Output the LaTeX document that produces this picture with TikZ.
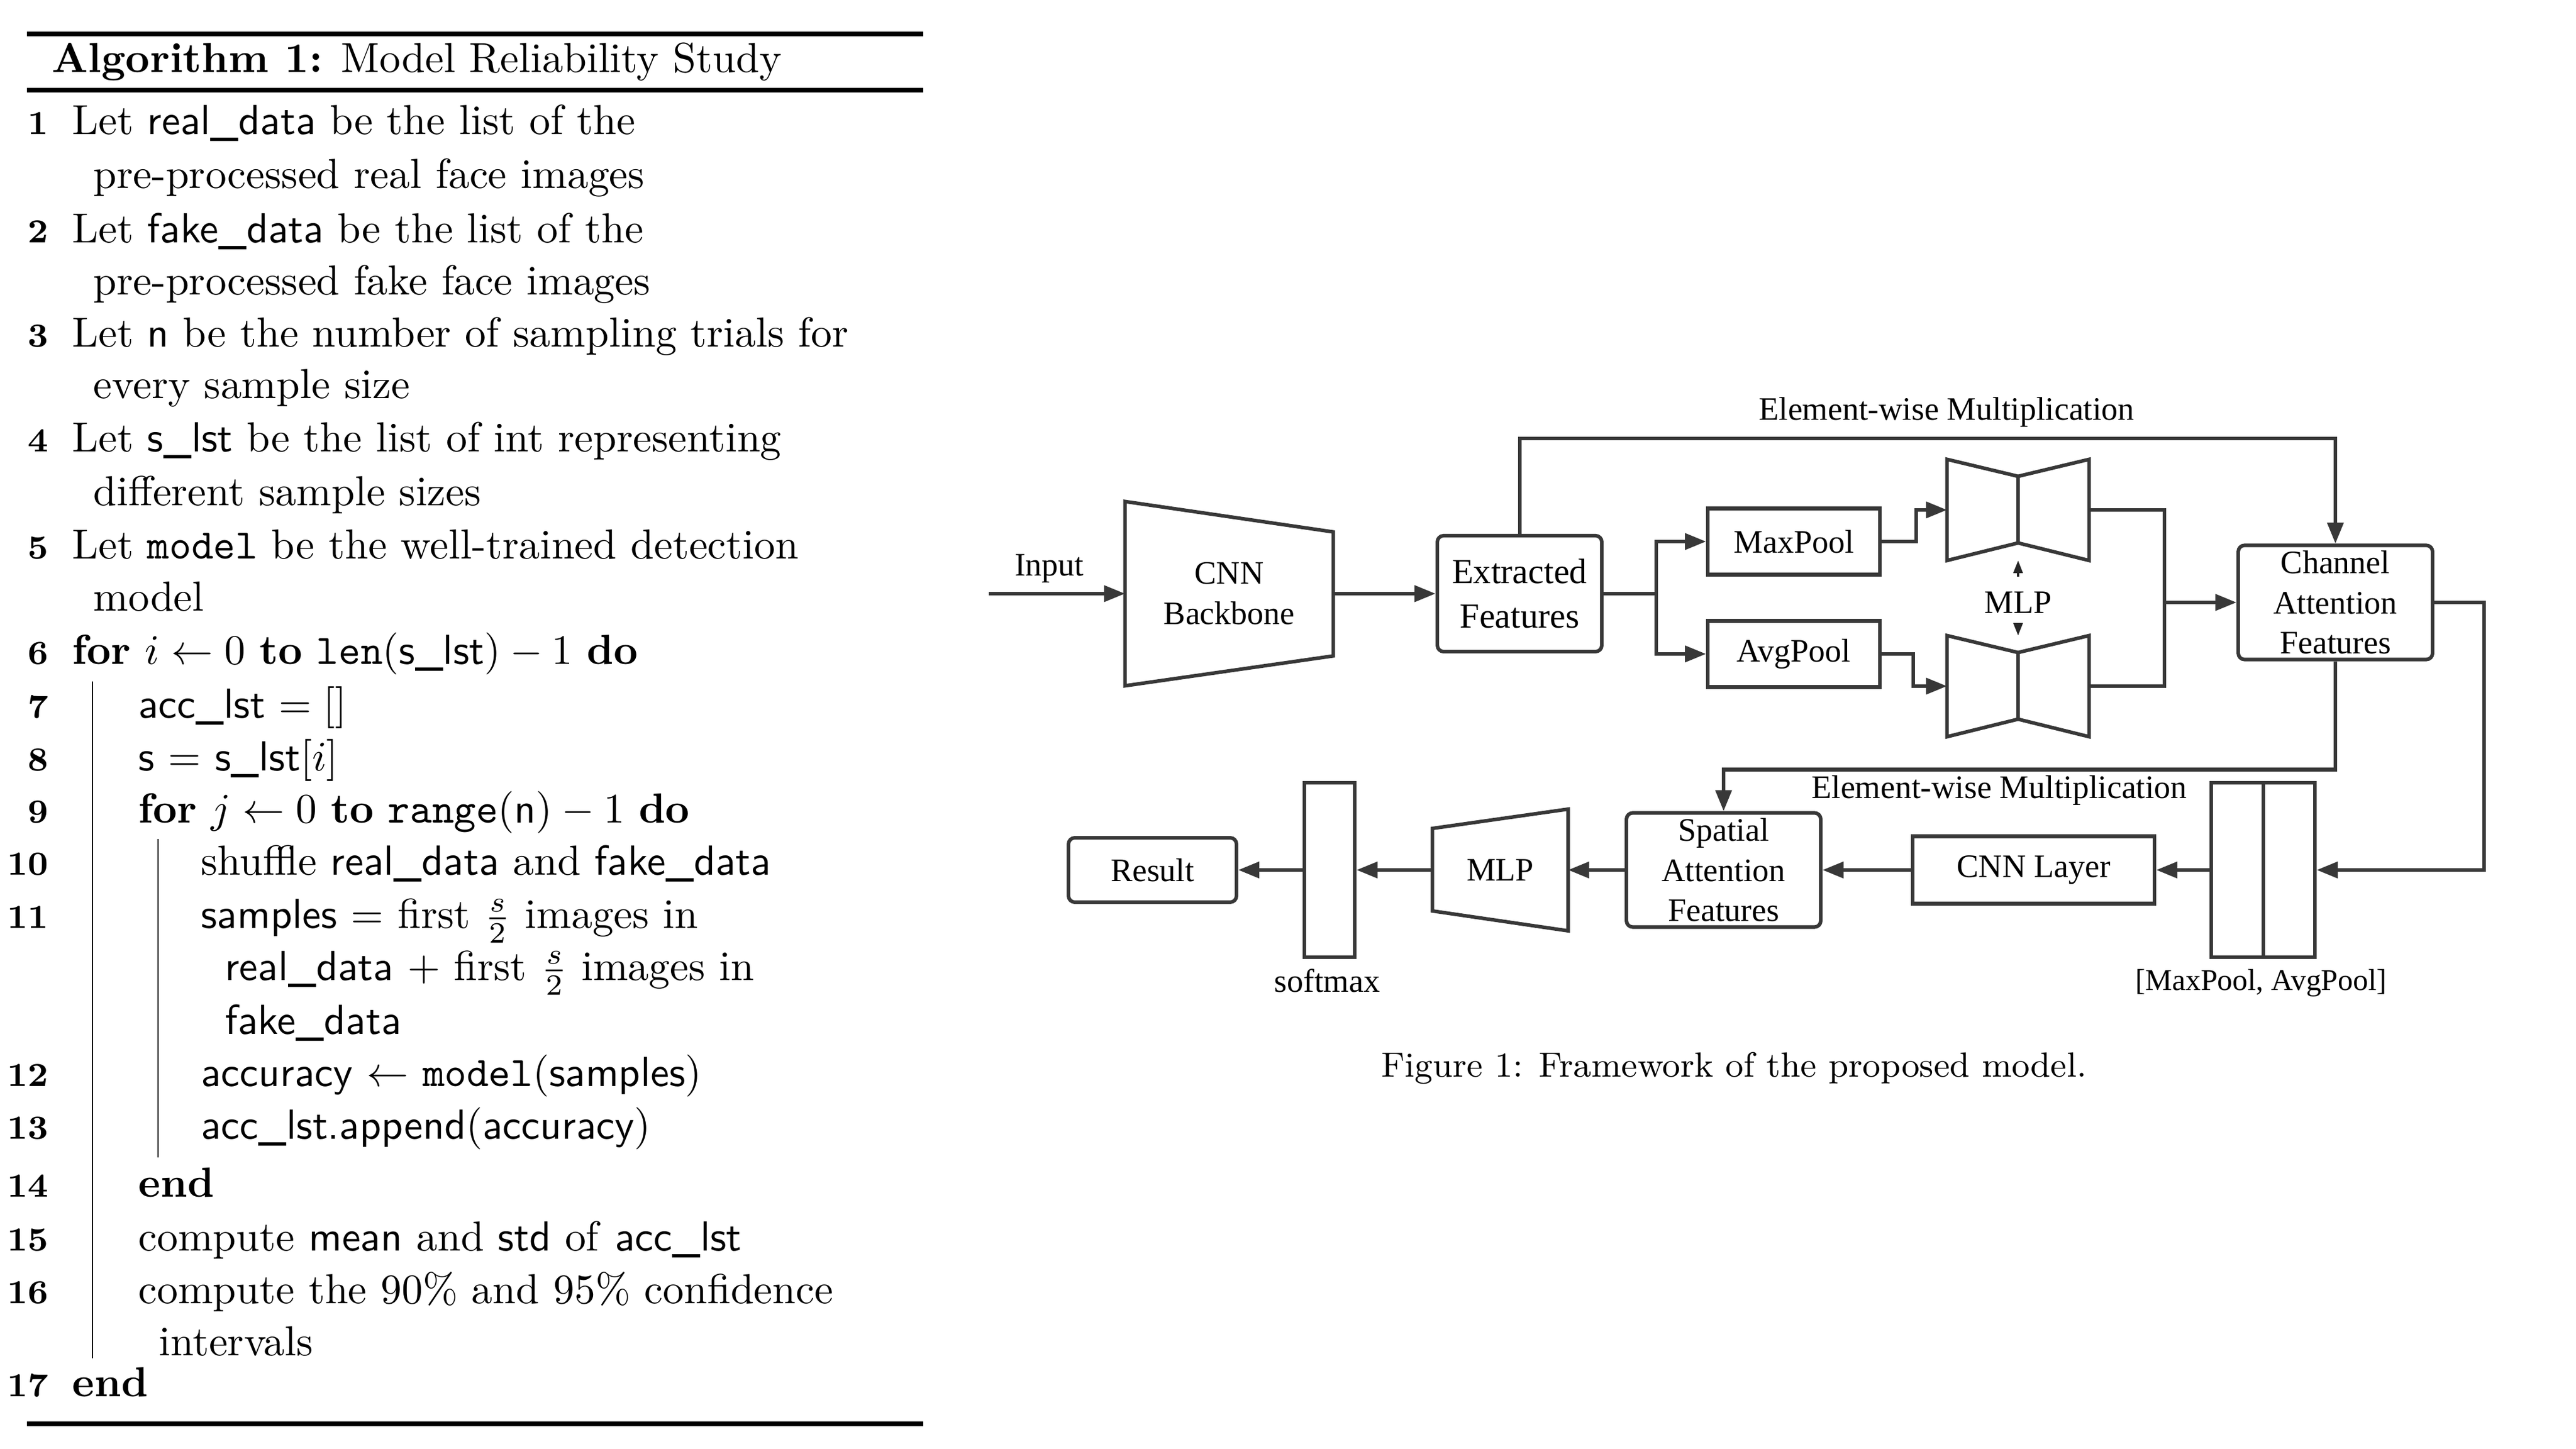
\documentclass[tikz,border=0pt]{standalone}
\usepackage{amsmath}
\usepackage{fontspec}
\newfontfamily\timesfont{Liberation Serif}
\usetikzlibrary{arrows.meta,calc}

\begin{document}
\begin{tikzpicture}[x=0.4902cm, y=-0.4902cm]
\tikzset{algline/.style = {anchor=base west, inner sep=0pt,
                           font=\fontsize{10}{12}\selectfont},
         algnum/.style = {anchor=base east, inner sep=0pt,
                          font=\footnotesize\bfseries},
         algrule/.style = {line width=1pt},
         wire/.style = {draw=black!78, line width=0.85pt},
         flow/.style = {wire, -{Triangle[length=5pt,width=3.8pt]}},
         smallflow/.style = {draw=black!85, line width=0.5pt,
                             -{Triangle[length=3pt,width=2.2pt]}},
         ghost/.style = {inner sep=0pt, align=center,
                         font=\timesfont\fontsize{7.8}{9.6}\selectfont},
         block/.style = {ghost, wire, fill=white},
         roundblock/.style = {block, rounded corners=1.5pt},
         note/.style = {ghost}}
\useasboundingbox (0,0) rectangle (44,24.75);

% algorithm
\draw[algrule] (0.46,0.58) -- (15.77,0.58);
\node[algline] (title) at (0.87,1.24) {\textbf{Algorithm 1:} Model Reliability Study};
\draw[algrule] (0.46,1.54) -- (15.77,1.54);

\foreach \n/\y in {1/2.30, 2/4.15, 3/5.93, 4/7.72, 5/9.55, 6/11.35, 7/12.27,
                   8/13.17, 9/14.06, 10/14.95, 11/15.86, 12/18.56, 13/19.45,
                   14/20.45, 15/21.36, 16/22.26, 17/23.85}
  \node[algnum] (n\n) at (0.84,\y) {\n};

\node[algline] (l1)  at (1.22,2.30) {Let \textsf{real\_data} be the list of the};
\node[algline] (l1b) at (1.58,3.22) {pre-processed real face images};
\node[algline] (l2)  at (1.22,4.15) {Let \textsf{fake\_data} be the list of the};
\node[algline] (l2b) at (1.58,5.04) {pre-processed fake face images};
\node[algline] (l3)  at (1.22,5.93) {Let \textsf{n} be the number of sampling trials for};
\node[algline] (l3b) at (1.58,6.81) {every sample size};
\node[algline] (l4)  at (1.22,7.72) {Let \textsf{s\_lst} be the list of int representing};
\node[algline] (l4b) at (1.58,8.64) {different sample sizes};
\node[algline] (l5)  at (1.22,9.55) {Let \texttt{model} be the well-trained detection};
\node[algline] (l5b) at (1.58,10.44) {model};
\node[algline] (l6)  at (1.22,11.35) {\textbf{for} $i \leftarrow 0$ \textbf{to} \texttt{len}$(\textsf{s\_lst})-1$ \textbf{do}};
\node[algline] (l7)  at (2.35,12.27) {\textsf{acc\_lst} $=[]$};
\node[algline] (l8)  at (2.35,13.17) {\textsf{s} $=$ \textsf{s\_lst}$[i]$};
\node[algline] (l9)  at (2.35,14.06) {\textbf{for} $j \leftarrow 0$ \textbf{to} \texttt{range}$(\textsf{n})-1$ \textbf{do}};
\node[algline] (l10) at (3.42,14.95) {shuffle \textsf{real\_data} and \textsf{fake\_data}};
\node[algline] (l11) at (3.42,15.86) {\textsf{samples} $=$ first \smash{$\frac{s}{2}$} images in};
\node[algline] (l11b) at (3.83,16.75) {\textsf{real\_data} $+$ first \smash{$\frac{s}{2}$} images in};
\node[algline] (l11c) at (3.83,17.67) {\textsf{fake\_data}};
\node[algline] (l12) at (3.42,18.56) {\textsf{accuracy} $\leftarrow$ \texttt{model}$($\textsf{samples}$)$};
\node[algline] (l13) at (3.42,19.45) {\textsf{acc\_lst.append}$($\textsf{accuracy}$)$};
\node[algline] (l14) at (2.35,20.45) {\textbf{end}};
\node[algline] (l15) at (2.35,21.36) {compute \textsf{mean} and \textsf{std} of \textsf{acc\_lst}};
\node[algline] (l16) at (2.35,22.26) {compute the 90\% and 95\% confidence};
\node[algline] (l16b) at (2.70,23.15) {intervals};
\node[algline] (l17) at (1.22,23.85) {\textbf{end}};

\draw (1.58,11.64) -- (1.58,23.20);
\draw (2.70,14.33) -- (2.70,19.77);

\draw[algrule] (0.46,24.32) -- (15.77,24.32);

% framework, upper row
\coordinate (in) at (16.89,10.14);
\node[note] (inlabel) at (17.92,9.71) {Input};
\node[ghost, minimum width=1.730cm, minimum height=1.529cm] (cnn) at (20.995,10.14) {CNN\\Backbone};
\draw[wire] (cnn.north west) -- ($(cnn.north east)+(0,0.52)$)
  -- ($(cnn.south east)+(0,-0.51)$) -- (cnn.south west) -- cycle;
\node[roundblock, minimum width=1.377cm, minimum height=0.971cm,
      font=\timesfont\fontsize{8.4}{10.5}\selectfont] (feat) at (25.955,10.14) {Extracted\\Features};
\node[block, minimum width=1.441cm, minimum height=0.554cm] (maxp) at (30.64,9.25) {MaxPool};
\node[block, minimum width=1.441cm, minimum height=0.554cm] (avgp) at (30.64,11.17) {AvgPool};
\node[ghost, minimum width=1.176cm, minimum height=0.833cm] (mlp1) at (34.47,8.71) {};
\node[ghost, minimum width=1.176cm, minimum height=0.833cm] (mlp2) at (34.47,11.72) {};
\foreach \m in {mlp1,mlp2}{
  \draw[wire] (\m.north west) -- ($(\m.north)+(0,0.29)$) -- (\m.north east)
    -- (\m.south east) -- ($(\m.south)+(0,-0.30)$) -- (\m.south west) -- cycle;
  \draw[wire] ($(\m.north)+(0,0.29)$) -- ($(\m.south)+(0,-0.30)$);
}
\node[note, inner sep=3.4pt] (mlplabel) at (34.47,10.29) {MLP};
\node[roundblock, minimum width=1.627cm, minimum height=0.956cm] (ca) at (39.89,10.29) {Channel\\Attention\\Features};
\coordinate (merge) at (36.95,10.29);
\coordinate (mul1) at ($(feat.north)+(0,-1.63)$);
\node[note] (emul1) at (33.25,7.04) {Element-wise Multiplication};

\draw[flow] (in) -- (cnn.west);
\draw[flow] (cnn.east) -- (feat.west);
\draw[flow] (feat.east) -- ++(0.90,0) |- (maxp.west);
\draw[flow] (feat.east) -- ++(0.90,0) |- (avgp.west);
\draw[flow] (maxp.east) -- ++(0.59,0) |- (mlp1.west);
\draw[flow] (avgp.east) -- ++(0.54,0) |- (mlp2.west);
\draw[wire] (mlp1.east) -- ++(1.29,0) |- (mlp2.east);
\draw[flow] (merge) -- (ca.west);
\draw[smallflow] (mlplabel.north) -- (mlp1.south);
\draw[smallflow] (mlplabel.south) -- (mlp2.north);
\draw[flow] (feat.north) -- (mul1) -| (ca.north);

% framework, lower row
\node[block, minimum width=0.868cm, minimum height=1.461cm] (cat) at (38.655,14.86) {};
\draw[wire] (cat.north) -- (cat.south);
\node[note] (catlabel) at (38.62,16.79) {\fontsize{7.2}{9}\selectfont [MaxPool, AvgPool]};
\node[block, minimum width=2.025cm, minimum height=0.564cm] (cnnl) at (34.735,14.86) {CNN Layer};
\node[roundblock, minimum width=1.627cm, minimum height=0.956cm] (sa) at (29.44,14.86) {Spatial\\Attention\\Features};
\node[ghost, minimum width=1.123cm, minimum height=1.005cm] (mlp3) at (25.625,14.86) {MLP};
\draw[wire] (mlp3.north east) -- (mlp3.south east) -- ($(mlp3.south west)+(0,-0.34)$)
  -- ($(mlp3.north west)+(0,0.33)$) -- cycle;
\node[block, minimum width=0.422cm, minimum height=1.461cm] (soft) at (22.71,14.86) {};
\node[note] (softlabel) at (22.67,16.75) {softmax};
\node[roundblock, minimum width=1.407cm, minimum height=0.539cm] (res) at (19.685,14.86) {Result};
\coordinate (mul2) at ($(ca.south)+(0,1.85)$);
\node[note] (emul2) at (34.15,13.50) {Element-wise Multiplication};

\draw[flow] (ca.east) -- ++(0.85,0) |- (cat.east);
\draw[flow] (ca.south) -- (mul2) -| (sa.north);
\draw[flow] (cat.west) -- (cnnl.east);
\draw[flow] (cnnl.west) -- (sa.east);
\draw[flow] (sa.west) -- (mlp3.east);
\draw[flow] (mlp3.west) -- (soft.east);
\draw[flow] (soft.west) -- (res.east);

\node[inner sep=0pt, scale=0.97, font=\fontsize{8.6}{10}\selectfont] (caption) at (29.62,18.25) {Figure 1: Framework of the proposed model.};

\end{tikzpicture}
\end{document}
